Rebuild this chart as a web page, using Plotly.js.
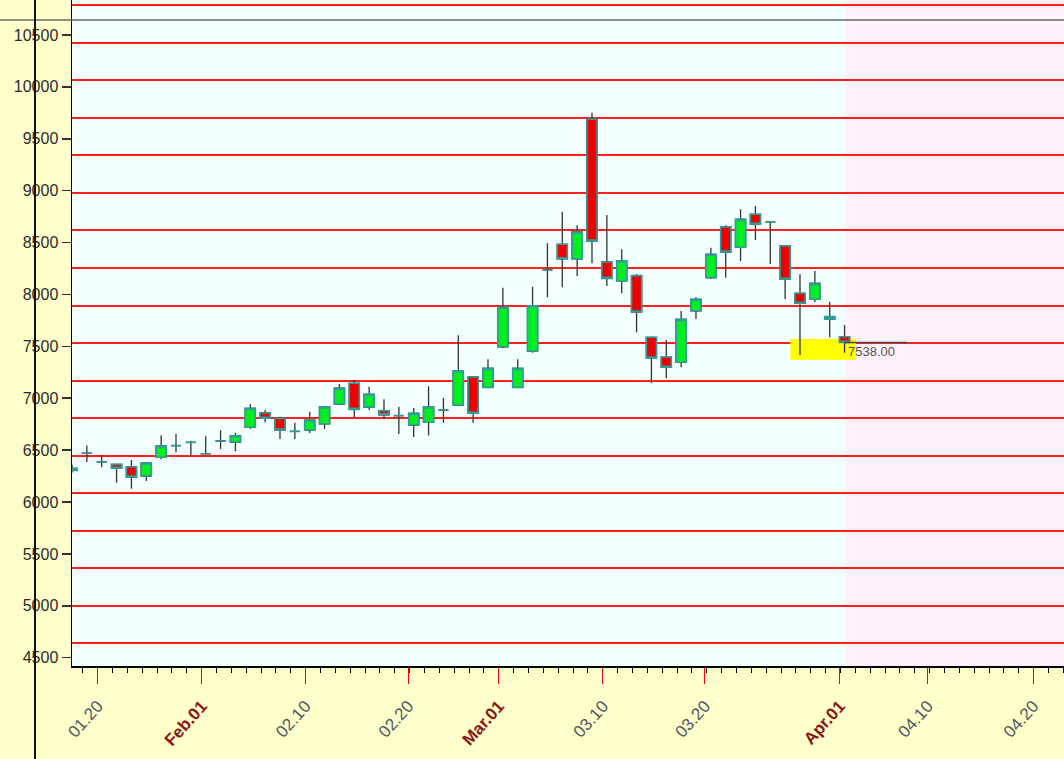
<!DOCTYPE html>
<html>
<head>
<meta charset="utf-8">
<script src="https://cdn.plot.ly/plotly-3.0.1.min.js"></script>
<style>
html,body{margin:0;padding:0;background:#ffffcc;}
#chart{width:1064px;height:759px;}
</style>
</head>
<body>
<div id="chart"></div>
<script>
// trading-day positions (index of each session on the compressed time axis)
const tradeDay = [0,1,2,3,4,5,6,7,8,9,10,11,12,13,14,15,16,17,18,19,20,21,22,23,24,25,26,
                  27,28,29,30,31,32,33,34,35,36,37,38,39,40,41,42,43,44,45,46,47,48,49,50,51,52];
const openP  = [6305,6470,6385,6363,6340,6250,6431,6543,6575,6465,6588,6578,6720,6858,6807,6681,6694,6754,
                6944,7144,6915,6880,6832,6742,6768,6886,6935,7205,7105,7496,7105,7455,8236,8483,8344,9688,
                8313,8130,8181,7587,7397,7346,7843,8162,8650,8454,8772,8700,8467,8011,7953,7786,7593];
const highP  = [6360,6545,6453,6365,6405,6380,6643,6655,6591,6633,6691,6668,6944,6887,6822,6764,6870,6920,
                7137,7176,7111,6990,6918,6906,7115,7005,7606,7205,7375,8065,7375,8075,8493,8797,8666,9751,
                8765,8435,8197,7590,7561,7840,7972,8451,8666,8820,8852,8701,8470,8194,8226,7930,7706];
const lowP   = [6285,6385,6334,6186,6128,6202,6411,6479,6446,6465,6511,6489,6703,6768,6607,6607,6665,6703,
                6935,6816,6886,6800,6655,6626,6640,6764,6925,6764,7096,7481,7096,7439,7972,8069,8178,8300,
                8081,8011,7635,7144,7192,7298,7763,8149,8162,8322,8525,8293,7956,7416,7924,7587,7439];
const closeP = [6325,6470,6385,6325,6241,6376,6540,6543,6575,6465,6588,6639,6903,6807,6694,6681,6790,6918,
                7096,6893,7038,6841,6832,6855,6918,6886,7265,6855,7288,7876,7288,7891,8236,8344,8602,8515,
                8155,8325,7831,7388,7298,7760,7953,8387,8409,8724,8676,8700,8146,7915,8107,7762,7538];

// x-axis date labels and their positions on the trading-day axis
const tickPos  = [1.73, 8.73, 15.71, 22.63, 28.73, 35.74, 42.6, 51.67, 57.6, 64.7];
const tickText = ['01.20','Feb.01','02.10','02.20','Mar.01','03.10','03.20','Apr.01','04.10','04.20'];
const monthStart = [false, true, false, false, true, false, false, true, false, false];

// price levels of the red reference lines (start level and step)
const levelStart = 7532;
const levelStep  = 361.5;

// cursor cross-hair value, highlight box
const cursorPrice = 10645;
const highlightBox = {x0: 48.35, x1: 52.77, y0: 7371, y1: 7571};
const lastLineEnd = 56.2;
const axisEnd = 66.77;

const bodyHigh = openP.map((o,i)=>Math.max(o, closeP[i]));
const bodyLow  = openP.map((o,i)=>Math.min(o, closeP[i]));
const lastIdx = tradeDay[tradeDay.length-1];
const lastClose = closeP[closeP.length-1];

const ticktextFmt = tickText.map((t,i)=> monthStart[i]
  ? '<b><span style="color:#8b1414">'+t+'</span></b>' : t);

const teal = '#2f9c98';

const wicks = {
  type:'candlestick', x: tradeDay, open: openP, high: highP, low: lowP, close: closeP,
  increasing:{line:{color:'#333333', width:1.3}, fillcolor:'#00ee22'},
  decreasing:{line:{color:'#333333', width:1.3}, fillcolor:'#ee0000'},
  whiskerwidth:0, hoverinfo:'skip', showlegend:false
};
const bodies = {
  type:'candlestick', x: tradeDay, open: openP, high: bodyHigh, low: bodyLow, close: closeP,
  increasing:{line:{color:teal, width:1.6}, fillcolor:'#00ee22'},
  decreasing:{line:{color:teal, width:1.6}, fillcolor:'#ee0000'},
  whiskerwidth:0, showlegend:false
};

const layout = {
  width:1064, height:759,
  margin:{l:72, r:0, t:0, b:93},
  paper_bgcolor:'#ffffcc',
  plot_bgcolor:'#f3ffff',
  showlegend:false,
  boxgap:0.15, boxgroupgap:0.2,
  font:{family:'Liberation Sans, Arial, sans-serif'},
  xaxis:{
    range:[0, axisEnd],
    tickmode:'array', tickvals: tickPos, ticktext: ticktextFmt,
    tickangle:-48,
    ticks:'outside', ticklen:16, tickwidth:1, tickcolor:'#ff0000',
    ticklabelstandoff:6,
    tickfont:{size:17, color:'#4c5862'},
    showline:true, linecolor:'#000', linewidth:1.5,
    showgrid:false, zeroline:false,
    rangeslider:{visible:false},
    minor:{tickmode:'linear', tick0:0.73, dtick:1, ticks:'outside', ticklen:5, tickwidth:1, tickcolor:'#000', showgrid:false},
    fixedrange:true
  },
  yaxis:{
    range:[4420, 10837],
    tickmode:'linear', tick0:4500, dtick:500, tickformat:'d',
    ticks:'outside', ticklen:9, tickwidth:1.5, tickcolor:'#333',
    tickfont:{size:16, color:'#2b2b2b'},
    showline:true, linecolor:'#000', linewidth:1.5,
    showgrid:false, zeroline:false,
    minor:{tickmode:'linear', tick0: levelStart, dtick: levelStep, ticks:'', showgrid:true, gridcolor:'#ff2020', gridwidth:2},
    fixedrange:true
  },
  shapes:[
    {type:'rect', xref:'x', yref:'paper', x0:lastIdx+0.05, x1:axisEnd, y0:0, y1:1,
     fillcolor:'#fff0fb', line:{width:0}, layer:'below'},
    {type:'rect', xref:'x', yref:'y', x0:highlightBox.x0, x1:highlightBox.x1, y0:highlightBox.y0, y1:highlightBox.y1,
     fillcolor:'#ffff00', line:{width:0}, layer:'between'},
    {type:'line', xref:'x', yref:'y', x0:lastIdx, x1:lastLineEnd, y0:lastClose, y1:lastClose,
     line:{color:'#444', width:1.5}},
    {type:'line', xref:'paper', yref:'y', x0:-0.0726, x1:1, y0:cursorPrice, y1:cursorPrice,
     line:{color:'#666', width:1.5}},
    {type:'line', xref:'paper', yref:'paper', x0:-0.0373, x1:-0.0373, y0:-0.15, y1:1,
     line:{color:'#111', width:2}}
  ],
  annotations:[
    {x:lastIdx+0.1, y:lastClose, xref:'x', yref:'y', xanchor:'left', yanchor:'top',
     text: lastClose.toFixed(2), showarrow:false, font:{size:13, color:'#555'}}
  ],
  hovermode:false
};

Plotly.newPlot('chart', [wicks, bodies], layout, {displayModeBar:false, staticPlot:true});
</script>
</body>
</html>
